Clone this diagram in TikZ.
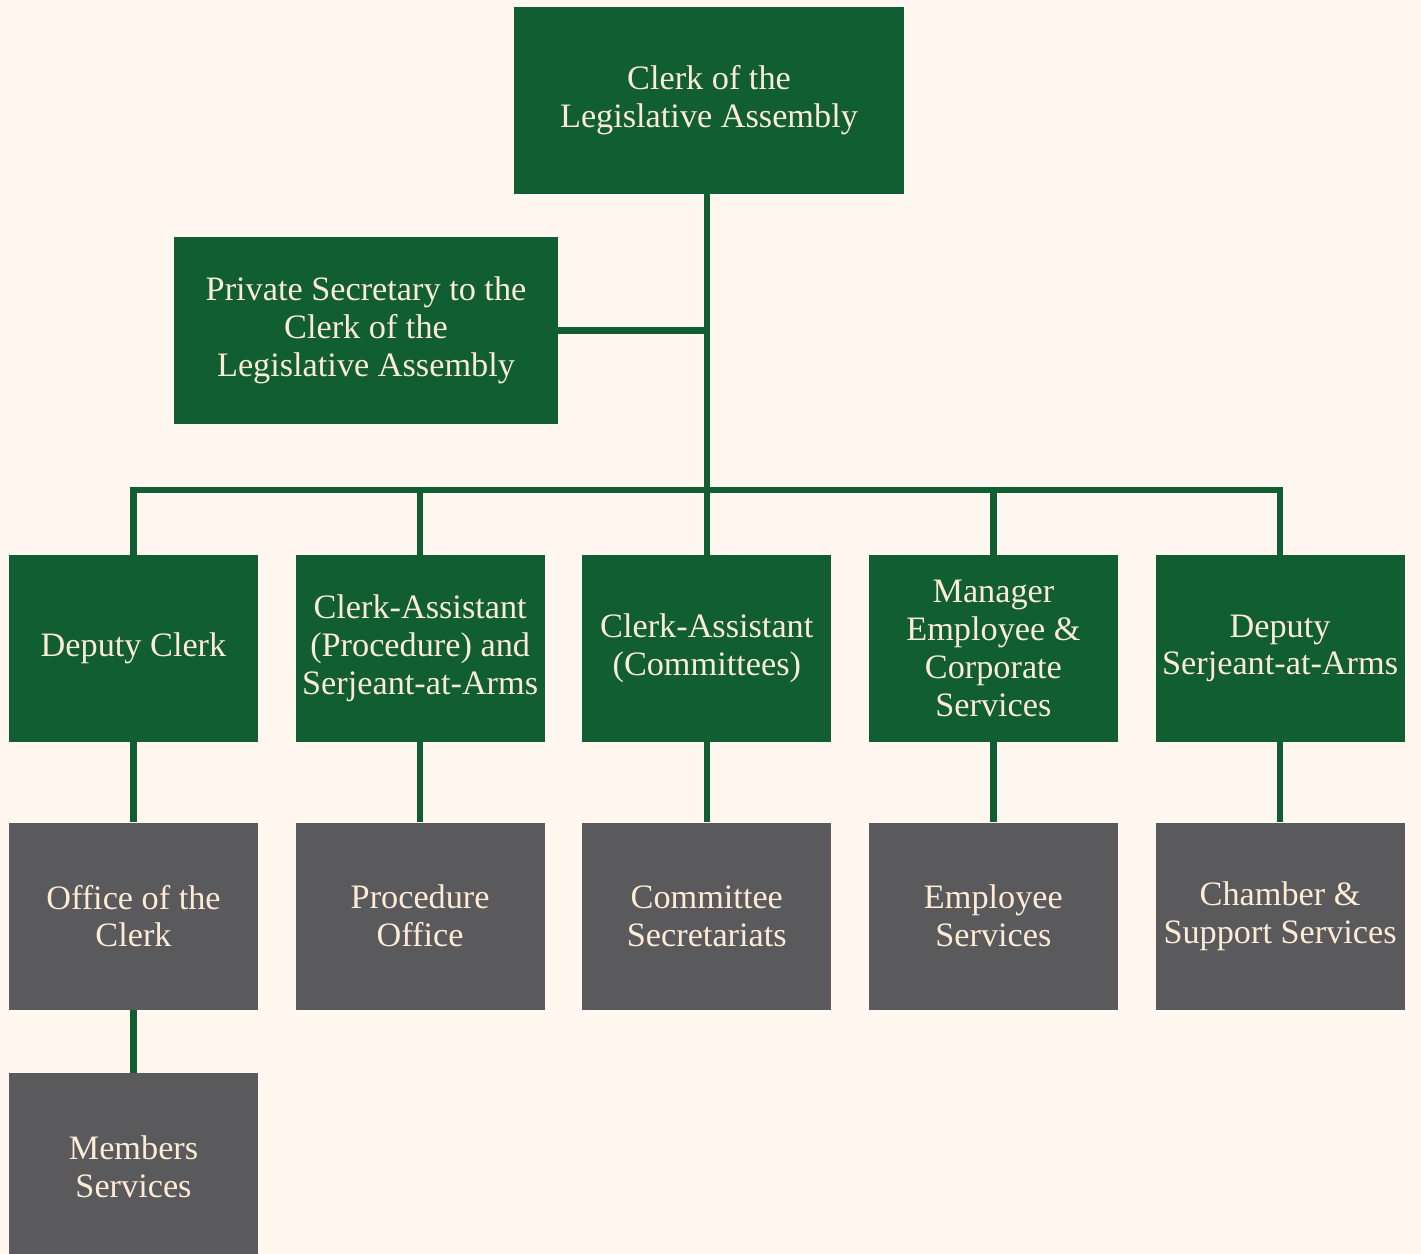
\documentclass[tikz,border=0pt]{standalone}
\usepackage{fontspec}
\setmainfont{Liberation Serif}
\usetikzlibrary{positioning}
\definecolor{boxgreen}{HTML}{105E31}
\definecolor{boxgrey}{HTML}{5A5A5C}
\definecolor{boxtext}{HTML}{FCEBD6}
\definecolor{paper}{HTML}{FFF7F0}

\begin{document}
\begin{tikzpicture}[x=0.02cm, y=-0.02cm,
    greenbox/.style={fill=boxgreen, text=boxtext, align=center, inner sep=0pt,
      minimum width=4.98cm, minimum height=3.74cm,
      font=\fontsize{19.5}{21.5}\selectfont},
    greybox/.style={greenbox, fill=boxgrey},
    link/.style={draw=boxgreen, line width=3.7pt}]
      \fill[paper] (0, 0) rectangle (1421, 1254);
      \useasboundingbox (0, 0) rectangle (1421, 1254);
      \node[greenbox, minimum width=7.8cm] (clerk) at (709, 100.5) {Clerk of the\\Legislative Assembly};
      \node[greenbox, minimum width=7.68cm] (secretary) at (366, 330.5) {Private Secretary to the\\Clerk of the\\Legislative Assembly};
      \node[greenbox] (deputy) at (133.5, 648.5) {Deputy Clerk};
      \node[greenbox, right=0.74cm of deputy] (procclerk) {Clerk-Assistant\\(Procedure) and\\Serjeant-at-Arms};
      \node[greenbox, right=0.74cm of procclerk] (commclerk) {Clerk-Assistant\\(Committees)};
      \node[greenbox, right=0.74cm of commclerk] (manager) {Manager\\Employee \&\\Corporate\\Services};
      \node[greenbox, right=0.74cm of manager] (serjeant) {Deputy\\Serjeant-at-Arms};
      \node[greybox, below=1.6cm of deputy] (office) {Office of the\\Clerk};
      \node[greybox, below=1.6cm of procclerk] (procedure) {Procedure\\Office};
      \node[greybox, below=1.6cm of commclerk] (committee) {Committee\\Secretariats};
      \node[greybox, below=1.6cm of manager] (employee) {Employee\\Services};
      \node[greybox, below=1.6cm of serjeant] (chamber) {Chamber \&\\Support Services};
      \node[greybox, below=1.26cm of office] (members) {Members\\Services};
      \coordinate (bus) at (707, 490);
      \draw[link] (clerk.south -| commclerk.north) -- (commclerk.north);
      \draw[link] (secretary.east) -- (secretary.east -| commclerk.north);
      \draw[link] (deputy.north) -- (deputy.north |- bus) -- (serjeant.north |- bus) -- (serjeant.north);
      \draw[link] (procclerk.north) -- (procclerk.north |- bus);
      \draw[link] (manager.north) -- (manager.north |- bus);
      \draw[link] (deputy.south) -- (office.north);
      \draw[link] (procclerk.south) -- (procedure.north);
      \draw[link] (commclerk.south) -- (committee.north);
      \draw[link] (manager.south) -- (employee.north);
      \draw[link] (serjeant.south) -- (chamber.north);
      \draw[link] (office.south) -- (members.north);
    \end{tikzpicture}
\end{document}
